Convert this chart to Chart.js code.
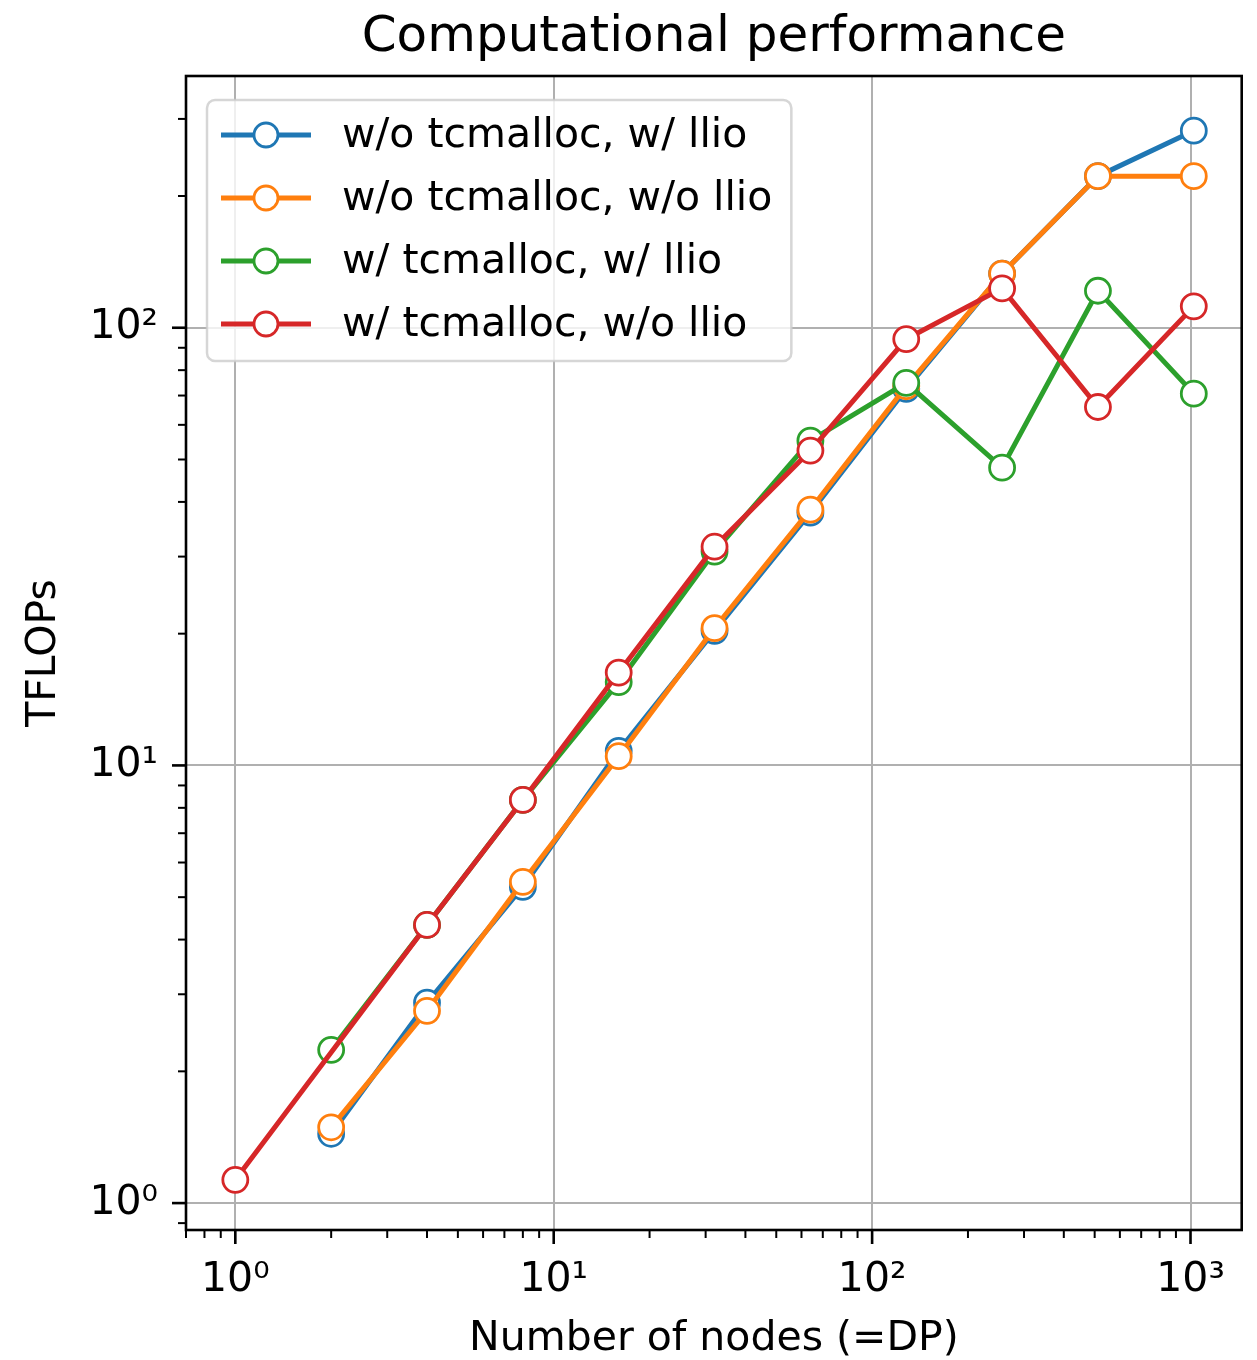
<!DOCTYPE html>
<html>
<head>
<meta charset="utf-8">
<title>Computational performance</title>
<script src="https://cdn.jsdelivr.net/npm/chart.js@4.4.1/dist/chart.umd.min.js"></script>
<style>
  html, body { margin: 0; padding: 0; background: #fff; }
  canvas { display: block; }
</style>
</head>
<body>
<canvas id="perfChart" width="1257" height="1360"></canvas>
<script>
/* ---------------- data ---------------- */
const nodes = [1, 2, 4, 8, 16, 32, 64, 128, 256, 512, 1024];
// null = no run at that node count
const noTcLlio   = [null, 1.44, 2.87, 5.28, 10.8, 20.3, 37.8, 72.5, 133, 222, 282];
const noTcNoLlio = [null, 1.49, 2.75, 5.42, 10.5, 20.6, 38.4, 73.5, 133, 222, 222];
const tcLlio     = [null, 2.24, 4.32, 8.34, 15.5, 30.8, 55.2, 74.8, 47.9, 121.5, 70.7];
const tcNoLlio   = [1.13, null, 4.32, 8.34, 16.3, 31.6, 52.4, 94.2, 123, 65.9, 111.9];

const seriesLabels = ["w/o tcmalloc, w/ llio", "w/o tcmalloc, w/o llio", "w/ tcmalloc, w/ llio", "w/ tcmalloc, w/o llio"];
const seriesValues = [noTcLlio, noTcNoLlio, tcLlio, tcNoLlio];
const seriesColors = ["#1f77b4", "#ff7f0e", "#2ca02c", "#d62728"];

const xTickValues = [1, 10, 100, 1000];
const xTickLabels = ["10⁰", "10¹", "10²", "10³"];
const yTickValues = [1, 10, 100];
const yTickLabels = ["10⁰", "10¹", "10²"];

const titleText = "Computational performance";
const xTitle = "Number of nodes (=DP)";
const yTitle = "TFLOPs";

/* ---------------- helpers ---------------- */
const FONT = "'DejaVu Sans', sans-serif";

function isMajor(v) {
  const l = Math.log10(v);
  return Math.abs(l - Math.round(l)) < 1e-9;
}

function logTicks(min, max) {
  const out = [];
  for (let e = Math.floor(Math.log10(min)); e <= Math.ceil(Math.log10(max)); e++) {
    for (let m = 1; m <= 9; m++) {
      const v = m * Math.pow(10, e);
      if (v >= min && v <= max) out.push({ value: v });
    }
  }
  return out;
}

function labelFor(values, labels) {
  return (value) => {
    const i = values.findIndex(v => Math.abs(v - value) < v * 1e-9);
    return i >= 0 ? labels[i] : "";
  };
}

function points(values) {
  const out = [];
  values.forEach((y, i) => { if (y !== null) out.push({ x: nodes[i], y }); });
  return out;
}

/* ---------------- frame, ticks, title, legend ---------------- */
const mplPlugin = {
  id: "mplLook",
  afterDraw(chart) {
    const { ctx, chartArea: a, scales } = chart;
    ctx.save();
    ctx.strokeStyle = "#000";

    scales.x.ticks.forEach(t => {
      const px = scales.x.getPixelForValue(t.value);
      const major = isMajor(t.value);
      ctx.lineWidth = major ? 2.6 : 2;
      ctx.beginPath();
      ctx.moveTo(px, a.bottom);
      ctx.lineTo(px, a.bottom + (major ? 14 : 8));
      ctx.stroke();
    });
    scales.y.ticks.forEach(t => {
      const py = scales.y.getPixelForValue(t.value);
      const major = isMajor(t.value);
      ctx.lineWidth = major ? 2.6 : 2;
      ctx.beginPath();
      ctx.moveTo(a.left, py);
      ctx.lineTo(a.left - (major ? 14 : 8), py);
      ctx.stroke();
    });

    ctx.lineWidth = 2.6;
    ctx.strokeRect(a.left, a.top, a.right - a.left, a.bottom - a.top);

    // title
    ctx.fillStyle = "#000";
    ctx.font = `50px ${FONT}`;
    ctx.textAlign = "center";
    ctx.textBaseline = "middle";
    ctx.fillText(titleText, (a.left + a.right) / 2, a.top - 38);

    // legend
    ctx.font = `41px ${FONT}`;
    const textW = Math.max(...seriesLabels.map(s => ctx.measureText(s).width));
    const bx = a.left + 21, by = a.top + 24;
    const bw = 135 + textW + 19, bh = 261;
    ctx.beginPath();
    if (ctx.roundRect) ctx.roundRect(bx, by, bw, bh, 8); else ctx.rect(bx, by, bw, bh);
    ctx.fillStyle = "rgba(255,255,255,0.8)";
    ctx.fill();
    ctx.strokeStyle = "rgba(204,204,204,0.8)";
    ctx.lineWidth = 2.5;
    ctx.stroke();

    seriesLabels.forEach((label, i) => {
      const ry = by + 35 + 63 * i;
      ctx.strokeStyle = seriesColors[i];
      ctx.lineWidth = 5;
      ctx.beginPath();
      ctx.moveTo(bx + 14, ry);
      ctx.lineTo(bx + 104, ry);
      ctx.stroke();
      ctx.beginPath();
      ctx.arc(bx + 59, ry, 12, 0, Math.PI * 2);
      ctx.fillStyle = "#fff";
      ctx.fill();
      ctx.lineWidth = 2.8;
      ctx.stroke();
      ctx.fillStyle = "#000";
      ctx.textAlign = "left";
      ctx.textBaseline = "middle";
      ctx.fillText(label, bx + 135, ry + 1);
    });
    ctx.restore();
  }
};

/* ---------------- chart ---------------- */
const gridColor = (c) => (c.tick && isMajor(c.tick.value)) ? "#b0b0b0" : "rgba(0,0,0,0)";

new Chart(document.getElementById("perfChart"), {
  type: "line",
  data: {
    datasets: seriesValues.map((vals, i) => ({
      label: seriesLabels[i],
      data: points(vals),
      parsing: false,
      borderColor: seriesColors[i],
      borderWidth: 5,
      tension: 0,
      pointRadius: 12.5,
      pointHoverRadius: 12.5,
      pointBorderWidth: 2.8,
      pointBackgroundColor: "#fff",
      pointBorderColor: seriesColors[i],
      order: seriesValues.length - i
    }))
  },
  options: {
    responsive: false,
    animation: false,
    events: [],
    layout: { padding: { top: 76, right: 14, left: 0, bottom: 0 } },
    plugins: {
      legend: { display: false },
      title: { display: false },
      tooltip: { enabled: false }
    },
    scales: {
      x: {
        type: "logarithmic",
        min: 0.707,
        max: 1448,
        afterFit: (s) => { s.height = 130; },
        afterBuildTicks: (s) => { s.ticks = logTicks(s.min, s.max); },
        grid: { color: gridColor, lineWidth: 2, drawTicks: false },
        border: { display: false },
        ticks: {
          autoSkip: false,
          maxRotation: 0,
          padding: 26,
          color: "#000",
          font: { family: FONT, size: 41 },
          callback: labelFor(xTickValues, xTickLabels)
        },
        title: {
          display: true,
          text: xTitle,
          color: "#000",
          font: { family: FONT, size: 41, lineHeight: 1 },
          padding: { top: 0, bottom: 0 }
        }
      },
      y: {
        type: "logarithmic",
        min: 0.868,
        max: 376,
        afterFit: (s) => { s.width = 186; },
        afterBuildTicks: (s) => { s.ticks = logTicks(s.min, s.max); },
        grid: { color: gridColor, lineWidth: 2, drawTicks: false },
        border: { display: false },
        ticks: {
          autoSkip: false,
          padding: 28,
          color: "#000",
          font: { family: FONT, size: 41 },
          callback: labelFor(yTickValues, yTickLabels)
        },
        title: {
          display: true,
          text: yTitle,
          color: "#000",
          font: { family: FONT, size: 41, lineHeight: 1 },
          padding: { top: 24, bottom: 0 }
        }
      }
    }
  },
  plugins: [mplPlugin]
});
</script>
</body>
</html>
